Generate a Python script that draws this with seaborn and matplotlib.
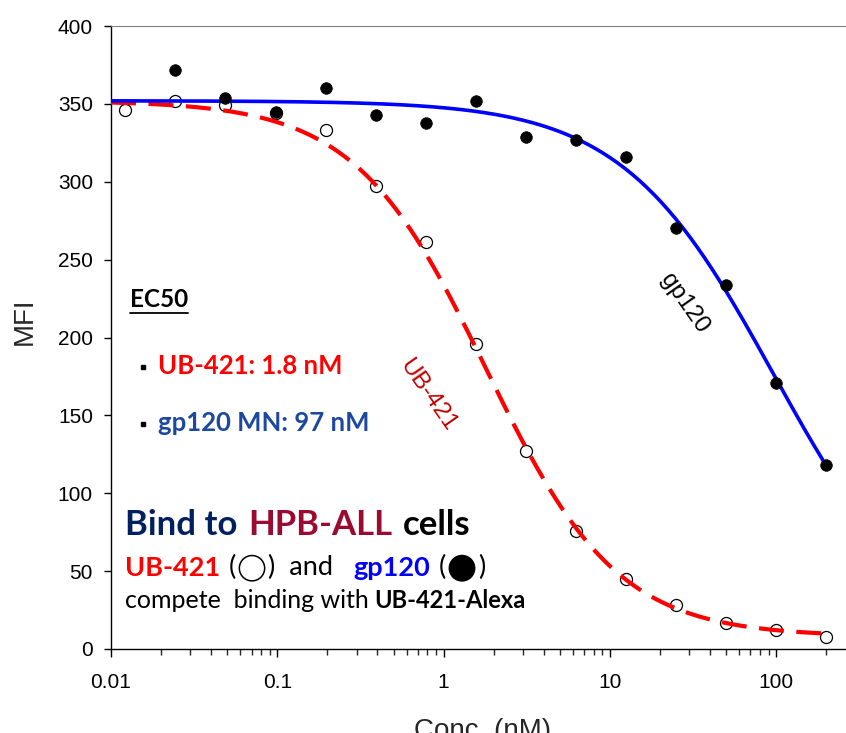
import numpy as np
import pandas as pd
import matplotlib
matplotlib.use('Agg')
import matplotlib.pyplot as plt
from matplotlib.lines import Line2D
from matplotlib.patches import Circle
from matplotlib.offsetbox import DrawingArea, AnnotationBbox
from matplotlib.ticker import FixedLocator, NullFormatter
import seaborn as sns

# concentration series (2-fold dilutions, nM)
conc = [0.0122, 0.0244, 0.0488, 0.0977, 0.195, 0.39, 0.78, 1.56, 3.125,
        6.25, 12.5, 25, 50, 100, 200]
ub421_mfi = [346, 352, 349, 344, 333, 297, 261, 196, 127, 76, 45, 28, 17, 12, 8]
gp120_mfi = [np.nan, 372, 354, 345, 360, 343, 338, 352, 329, 327, 316, 270,
             234, 171, 118]

# 4-parameter logistic fits: top, bottom, EC50, hill
ub421_fit = (352, 8, 1.8, 1.1)
gp120_fit = (352, 0, 97, 0.95)

x_ticks = [0.01, 0.1, 1, 10, 100]
x_labels = ['0.01', '0.1', '1', '10', '100']
y_ticks = [0, 50, 100, 150, 200, 250, 300, 350, 400]

W, H = 846, 733
fx = lambda px: px / W
fy = lambda py: 1 - py / H

sns.set_style('ticks')
plt.rcParams['font.family'] = ['Liberation Sans', 'DejaVu Sans']

def four_pl(x, p):
    top, bottom, ec50, hill = p
    return bottom + (top - bottom) / (1 + (x / ec50) ** hill)

xfit = np.logspace(-2, np.log10(200), 300)
fits = pd.DataFrame({'conc': xfit,
                     'ub421': four_pl(xfit, ub421_fit),
                     'gp120': four_pl(xfit, gp120_fit)})
pts = pd.DataFrame({'conc': conc, 'ub421': ub421_mfi, 'gp120': gp120_mfi})

fig = plt.figure(figsize=(W / 100, H / 100), dpi=100)
ax = fig.add_axes([fx(111), fy(649), (W - 111) / W, (649 - 26) / H])

sns.scatterplot(data=pts, x='conc', y='ub421', ax=ax, s=75, color='white',
                edgecolor='black', linewidth=0.9, zorder=2)
sns.lineplot(data=fits, x='conc', y='ub421', ax=ax, color='#ff0000', lw=3,
             linestyle=(0, (6, 3)), zorder=3)
sns.lineplot(data=fits, x='conc', y='gp120', ax=ax, color='#0000ff', lw=2.6,
             zorder=3)
sns.scatterplot(data=pts.dropna(), x='conc', y='gp120', ax=ax, s=70,
                color='black', edgecolor='black', linewidth=0.5, zorder=4)

ax.set_xscale('log')
ax.set_xlim(0.01, 263)
ax.set_ylim(0, 400)
ax.xaxis.set_major_locator(FixedLocator(x_ticks))
ax.set_xticklabels(x_labels)
ax.xaxis.set_minor_formatter(NullFormatter())
ax.set_yticks(y_ticks)
ax.tick_params(axis='both', labelsize=15, colors='black', width=1)
ax.tick_params(axis='x', which='major', length=6, pad=11)
ax.tick_params(axis='x', which='minor', length=4.3, width=1)
ax.tick_params(axis='y', length=5, pad=8)
ax.spines['right'].set_visible(False)
ax.spines['top'].set_color('#808080')
for s in ['left', 'bottom']:
    ax.spines[s].set_color('black')
    ax.spines[s].set_linewidth(1)

ax.set_xlabel('Conc. (nM)', fontsize=20)
ax.set_ylabel('MFI', fontsize=20)
ax.xaxis.set_label_coords(0.506, -0.111)
ax.yaxis.set_label_coords(-0.1, 0.526)

# curve labels
ax.text(0.8, 163, 'UB-421', color='#c00000', fontsize=17.5, rotation=-55,
        ha='center', va='center', rotation_mode='anchor')
ax.text(28, 222, 'gp120', color='black', fontsize=17.5, rotation=-55,
        ha='center', va='center', rotation_mode='anchor')

# EC50 box
cal = ['Lato', 'DejaVu Sans']
fig.text(fx(130), fy(307), 'EC50', fontsize=17.5, fontweight='bold',
         family=cal, color='black', va='baseline')
fig.add_artist(Line2D([fx(130), fx(188)], [fy(313), fy(313)], color='black', lw=1.3))
for yb in [367, 424]:
    fig.add_artist(Line2D([fx(143)], [fy(yb)], marker='s', ms=3.5, color='black', lw=0))
fig.text(fx(158), fy(374), 'UB-421: 1.8 nM', fontsize=18.5, fontweight='bold',
         family=cal, color='#ff0000', va='baseline')
fig.text(fx(158), fy(431), 'gp120 MN: 97 nM', fontsize=18.5, fontweight='bold',
         family=cal, color='#1d48a0', va='baseline')


def chain(prev, base, text, color, weight, gap, size):
    return ax.annotate(text, xy=(1, 0), xycoords=(prev, base), xytext=(gap, 0),
                       textcoords='offset pixels', va='bottom', ha='left',
                       color=color, fontweight=weight, fontsize=size, family=cal)


def circle_after(prev, filled, gap):
    d = 27 * 72 / 100
    da = DrawingArea(d, d, 0, 0)
    da.add_artist(Circle((d / 2, d / 2), d / 2 - 0.6,
                         fc='black' if filled else 'white', ec='black', lw=1.1))
    ab = AnnotationBbox(da, xy=(1, 0.47), xycoords=prev, xybox=(gap, 0),
                        boxcoords='offset pixels', box_alignment=(0, 0.5),
                        frameon=False, pad=0)
    fig.add_artist(ab)


# line 1
t0 = fig.text(fx(125), fy(535), 'Bind to', color='#002060', fontweight='bold',
              fontsize=25, family=cal, va='baseline')
t = chain(t0, t0, 'HPB-ALL', '#9b0a30', 'bold', 11, 25)
chain(t, t0, 'cells', 'black', 'bold', 10, 25)

# line 2
b = fig.text(fx(125), fy(576), 'UB-421', color='#ff0000', fontweight='bold',
             fontsize=19.5, family=cal, va='baseline')
p = chain(b, b, '(', 'black', 'normal', 8, 19.5)
circle_after(p, False, 3)
t = chain(p, b, ')  and', 'black', 'normal', 33, 19.5)
t = chain(t, b, 'gp120', '#0000ff', 'bold', 20, 19.5)
p = chain(t, b, '(', 'black', 'normal', 8, 19.5)
circle_after(p, True, 3)
chain(p, b, ')', 'black', 'normal', 33, 19.5)

# line 3
t0 = fig.text(fx(125), fy(608), 'compete  binding with', color='black',
              fontsize=18, family=cal, va='baseline')
chain(t0, t0, 'UB-421-Alexa', 'black', 'bold', 6, 17)

fig.savefig('out.png', dpi=100)
